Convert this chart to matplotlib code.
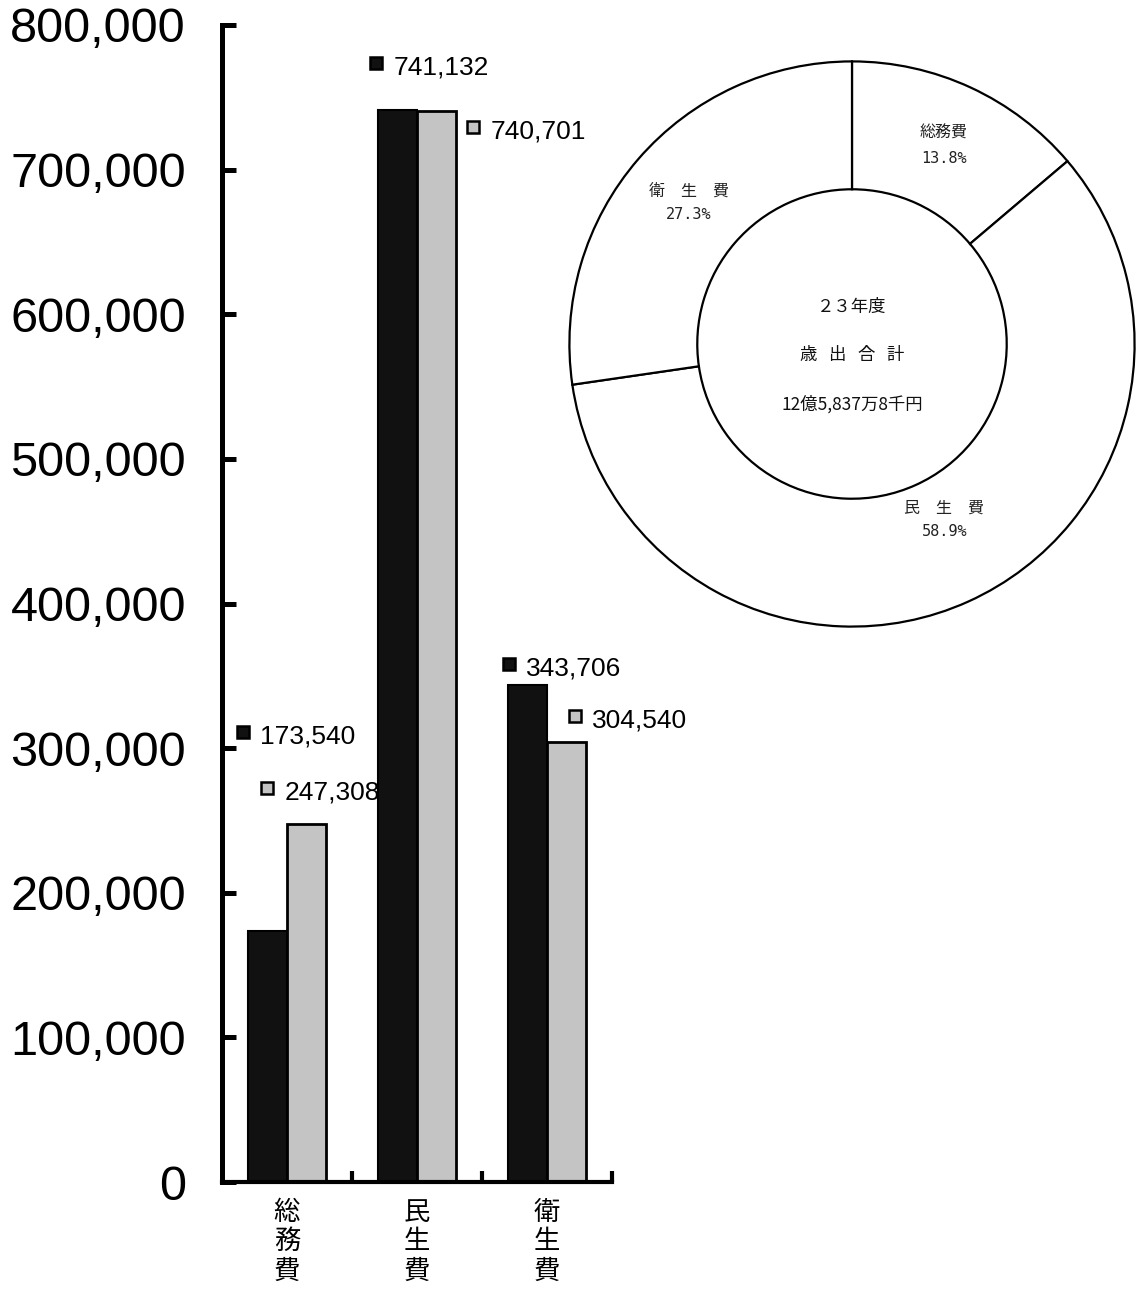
import matplotlib
matplotlib.use("Agg")
import matplotlib.pyplot as plt
import matplotlib.transforms as mtransforms
import numpy as np

plt.rcParams['font.family'] = ['Liberation Sans', 'Noto Sans CJK JP', 'DejaVu Sans']

# Expenditure by category (thousand yen): previous year vs. fiscal 23
categories = ["総務費", "民生費", "衛生費"]
prev_year = [173540, 741132, 343706]
this_year = [247308, 740701, 304540]

y_ticks = [0, 100000, 200000, 300000, 400000, 500000, 600000, 700000, 800000]

# Composition of fiscal-23 expenditure (%)
pie_labels = ["総務費", "民　生　費", "衛　生　費"]
pie_shares = [13.8, 58.9, 27.3]
center_lines = ["２３年度", "歳   出   合   計", "12億5,837万8千円"]

W, H = 1145, 1292
fig = plt.figure(figsize=(W / 100, H / 100), dpi=100)

# ---- bar chart ----
x0, x1, y0, y1 = 222, 612, 1182, 25
ax = fig.add_axes([x0 / W, 1 - y0 / H, (x1 - x0) / W, (y0 - y1) / H])
x = np.arange(len(categories))
bw = 0.3
ax.bar(x - bw / 2, prev_year, bw, color="#111111", edgecolor="black", linewidth=1.5)
ax.bar(x + bw / 2, this_year, bw, color="#c4c4c4", edgecolor="black", linewidth=2)
ax.set_xlim(-0.5, 2.5)
ax.set_ylim(0, 800000)
ax.set_yticks(y_ticks)
ax.set_yticklabels([f"{v:,}" for v in y_ticks], fontsize=35)
shift = mtransforms.ScaledTranslation(0, -5 / 100, fig.dpi_scale_trans)
for lbl in ax.get_yticklabels():
    lbl.set_transform(lbl.get_transform() + shift)
ax.set_xticks([0.5, 1.5, 2.5])
ax.set_xticklabels([])
for s in ("top", "right"):
    ax.spines[s].set_visible(False)
ax.spines["left"].set_linewidth(3.6)
ax.spines["bottom"].set_linewidth(3.0)
ax.tick_params(axis="y", direction="in", length=10, width=3.6, pad=26)
ax.tick_params(axis="x", direction="in", length=8, width=3.0)
ax.patch.set_alpha(0)

for i, cat in enumerate(categories):
    ax.annotate("\n".join(cat), xy=(i, 0), xytext=(0, -12), textcoords="offset points",
                ha="center", va="top", fontsize=19, linespacing=1.12,
                fontfamily=["Noto Sans CJK JP"])

# value labels with a small legend key beside each
label_pos_prev = [(-0.338, 311100), (0.685, 773700), (1.708, 358150)]
label_pos_this = [(-0.154, 272400), (1.431, 729400), (2.215, 322200)]
for vals, pos, fc in ((prev_year, label_pos_prev, "#111111"),
                      (this_year, label_pos_this, "#c4c4c4")):
    for v, (px, py) in zip(vals, pos):
        ax.plot(px, py, marker="s", markersize=8.5, markerfacecolor=fc,
                markeredgecolor="black", markeredgewidth=1.8, clip_on=False)
        ax.annotate(f"{v:,}", xy=(px, py), xytext=(12.5, -3), textcoords="offset points",
                    ha="left", va="center", fontsize=19, annotation_clip=False)

# ---- doughnut chart ----
cx, cy, r = 852, 344, 284
pax = fig.add_axes([(cx - r) / W, 1 - (cy + r) / H, 2 * r / W, 2 * r / H])
pax.pie(pie_shares, startangle=90, counterclock=False, radius=1,
        colors=["white"] * 3,
        wedgeprops=dict(width=1 - 155.5 / r, edgecolor="black", linewidth=1.6))
pax.set_xlim(-1.005, 1.005)
pax.set_ylim(-1.005, 1.005)
pax.set_aspect("auto")
pax.axis("off")

pie_text_pos = [(0.324, 0.746, 0.655), (0.327, -0.581, -0.662), (-0.577, 0.542, 0.458)]
for lab, share, (tx, ty1, ty2) in zip(pie_labels, pie_shares, pie_text_pos):
    pax.text(tx, ty1, lab, ha="center", va="center", fontsize=11.5,
             color="#222222", fontfamily=["Noto Sans CJK JP"])
    pax.text(tx, ty2, f"{share}%", ha="center", va="center", fontsize=11,
             color="#222222", fontfamily=["DejaVu Sans Mono"])

for line, ty, fs in zip(center_lines, [0.13, -0.04, -0.215], [12.5, 12.5, 12.5]):
    pax.text(0, ty, line, ha="center", va="center", fontsize=fs, color="#111111",
             fontfamily=["Noto Sans CJK JP", "DejaVu Sans"])

fig.savefig("out.png", dpi=100)
